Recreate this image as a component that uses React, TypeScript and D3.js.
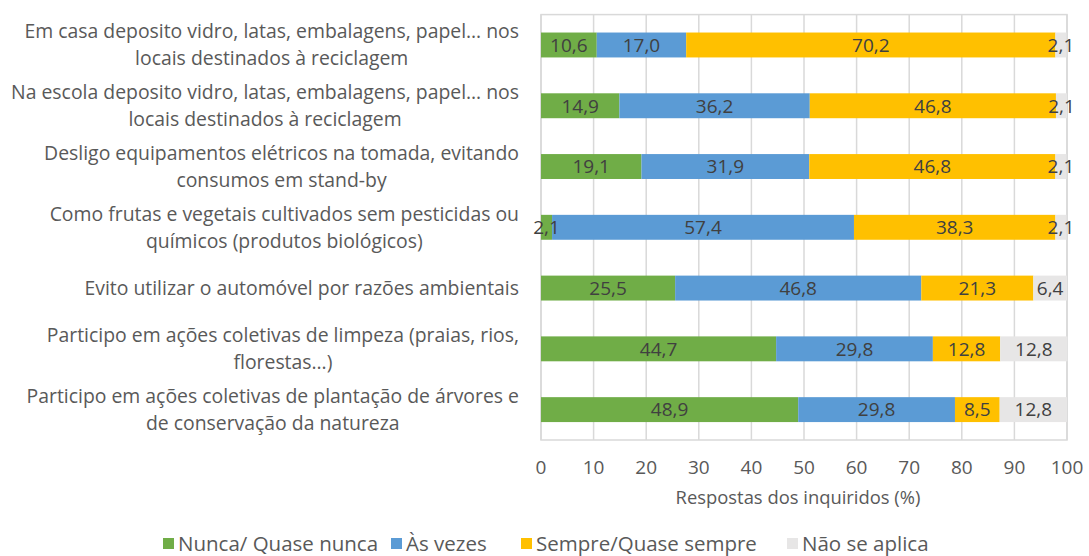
import React, { useRef, useEffect } from "react";
import * as d3 from "d3";

// categories (top to bottom), each label split into lines
const categories: string[][] = [
  ["Em casa deposito vidro, latas, embalagens, papel… nos", "locais destinados à reciclagem"],
  ["Na escola deposito vidro, latas, embalagens, papel… nos", "locais destinados à reciclagem"],
  ["Desligo equipamentos elétricos na tomada, evitando", "consumos em stand-by"],
  ["Como frutas e vegetais cultivados sem pesticidas ou", "químicos (produtos biológicos)"],
  ["Evito utilizar o automóvel por razões ambientais"],
  ["Participo em ações coletivas de limpeza (praias, rios,", "florestas…)"],
  ["Participo em ações coletivas de plantação de árvores e", "de conservação da natureza"],
];

const seriesNames = ["Nunca/ Quase nunca", "Às vezes", "Sempre/Quase sempre", "Não se aplica"];
const seriesColors = ["#70AD47", "#5B9BD5", "#FFC000", "#E7E6E6"];

const nunca = [10.6, 14.9, 19.1, 2.1, 25.5, 44.7, 48.9];
const asVezes = [17.0, 36.2, 31.9, 57.4, 46.8, 29.8, 29.8];
const sempre = [70.2, 46.8, 46.8, 38.3, 21.3, 12.8, 8.5];
const naoAplica = [2.1, 2.1, 2.1, 2.1, 6.4, 12.8, 12.8];

const xTicks = [0, 10, 20, 30, 40, 50, 60, 70, 80, 90, 100];

const FONT = "'Open Sans', sans-serif";

const App: React.FC = () => {
  const svgRef = useRef<SVGSVGElement>(null);

  useEffect(() => {
    const width = 1089;
    const height = 556;
    const left = 541;
    const right = 1067;
    const top = 14.6;
    const bottom = 440;

    const svg = d3.select(svgRef.current).attr("width", width).attr("height", height);
    svg.selectAll("*").remove();

    const x = d3.scaleLinear().domain([0, 100]).range([left, right]);
    const y = d3
      .scaleBand<number>()
      .domain(d3.range(categories.length))
      .range([top, bottom])
      .paddingInner(0.59)
      .paddingOuter(0.295);

    const rows = categories.map((_, i) => [nunca[i], asVezes[i], sempre[i], naoAplica[i]]);

    // gridlines
    svg
      .append("g")
      .selectAll("line")
      .data(xTicks)
      .join("line")
      .attr("x1", (d) => x(d))
      .attr("x2", (d) => x(d))
      .attr("y1", top)
      .attr("y2", bottom)
      .attr("stroke", "#D9D9D9")
      .attr("stroke-width", 1.5);

    svg
      .append("rect")
      .attr("x", left)
      .attr("y", top)
      .attr("width", right - left)
      .attr("height", bottom - top)
      .attr("fill", "none")
      .attr("stroke", "#D9D9D9")
      .attr("stroke-width", 1.5);

    // bars
    const segs: { i: number; s: number; x0: number; x1: number; v: number }[] = [];
    rows.forEach((vals, i) => {
      let acc = 0;
      vals.forEach((v, s) => {
        segs.push({ i, s, x0: acc, x1: acc + v, v });
        acc += v;
      });
    });

    svg
      .append("g")
      .selectAll("rect")
      .data(segs)
      .join("rect")
      .attr("x", (d) => x(d.x0))
      .attr("y", (d) => y(d.i)!)
      .attr("width", (d) => x(d.x1) - x(d.x0))
      .attr("height", y.bandwidth())
      .attr("fill", (d) => seriesColors[d.s]);

    svg
      .append("g")
      .selectAll("text")
      .data(segs)
      .join("text")
      .attr("x", (d) => (x(d.x0) + x(d.x1)) / 2)
      .attr("y", (d) => y(d.i)! + y.bandwidth() / 2)
      .attr("dy", "0.36em")
      .attr("text-anchor", "middle")
      .attr("font-family", FONT)
      .attr("font-size", 19)
      .attr("fill", "#404040")
      .text((d) => d.v.toFixed(1).replace(".", ","));

    // category labels
    categories.forEach((lines, i) => {
      const cy = y(i)! + y.bandwidth() / 2;
      const t = svg
        .append("text")
        .attr("font-family", FONT)
        .attr("font-size", 19.4)
        .attr("fill", "#595959")
        .attr("text-anchor", "middle");
      const lh = 27;
      const spans = lines.map((l, k) =>
        t
          .append("tspan")
          .attr("y", cy + (k - (lines.length - 1) / 2) * lh)
          .attr("dy", "0.36em")
          .text(l)
      );
      const maxW = d3.max(spans, (s) => (s.node() as SVGTSpanElement).getComputedTextLength()) || 0;
      const cx = 519 - maxW / 2;
      spans.forEach((s) => s.attr("x", cx));
    });

    // x tick labels
    svg
      .append("g")
      .selectAll("text")
      .data(xTicks)
      .join("text")
      .attr("x", (d) => x(d))
      .attr("y", 467)
      .attr("dy", "0.36em")
      .attr("text-anchor", "middle")
      .attr("font-family", FONT)
      .attr("font-size", 19)
      .attr("fill", "#595959")
      .text((d) => d);

    svg
      .append("text")
      .attr("x", 798)
      .attr("y", 497)
      .attr("dy", "0.36em")
      .attr("text-anchor", "middle")
      .attr("font-family", FONT)
      .attr("font-size", 18.4)
      .attr("fill", "#595959")
      .text("Respostas dos inquiridos (%)");

    // legend
    const legendX = [163, 391, 521, 787];
    const lg = svg.append("g");
    seriesNames.forEach((name, s) => {
      lg.append("rect")
        .attr("x", legendX[s])
        .attr("y", 538)
        .attr("width", 11)
        .attr("height", 11)
        .attr("fill", seriesColors[s]);
      lg.append("text")
        .attr("x", legendX[s] + 15)
        .attr("y", 543.5)
        .attr("dy", "0.36em")
        .attr("font-family", FONT)
        .attr("font-size", 20.5)
        .attr("fill", "#595959")
        .text(name);
    });
  }, []);

  return (
    <svg
      ref={svgRef}
      style={{ position: "absolute", left: 0, top: 0, background: "#fff" }}
    ></svg>
  );
};

export default App;
